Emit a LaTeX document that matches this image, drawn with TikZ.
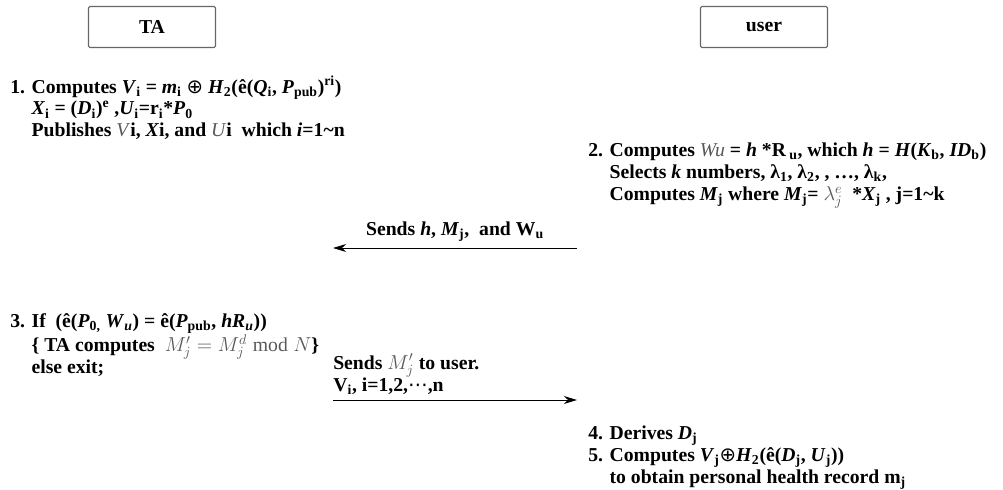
\documentclass[tikz,border=0pt]{standalone}
\usepackage{fontspec}
\setmainfont{Liberation Serif}
\newfontfamily\symfont{DejaVu Sans}
\usetikzlibrary{arrows.meta, positioning}

\definecolor{eqgray}{gray}{0.35}
\newcommand{\low}[1]{\textsubscript{#1}}
\newcommand{\high}[1]{\textsuperscript{#1}}
\newcommand{\lighteq}[1]{{\mdseries\color{eqgray}#1}}

\begin{document}
\begin{tikzpicture}[
            x=0.025cm, y=-0.025cm,
            party/.style={
                    rectangle,
                    draw=black!60,
                    line width=0.8pt,
                    rounded corners=1pt,
                    font=\fontsize{14}{15.5}\selectfont\bfseries,
                    minimum width=3.175cm,
                    minimum height=1.025cm
                },
            steptext/.style={
                    anchor=north west,
                    align=left,
                    inner sep=0pt,
                    font=\fontsize{14}{15.5}\selectfont\bfseries
                },
            msg/.style={
                    draw,
                    line width=0.7pt,
                    -{Stealth[length=0.33cm, width=0.2cm]}
                }
        ]
        \useasboundingbox (0,0) rectangle (1003,490);

        % Parties
        \node [party] (ta) at (152,27) {TA};
        \node [party] (user) at (764,27) {user};

        % Steps
        \node [steptext] (ta1) at (10,76) {1. Computes \textit{V}\low{i} = \textit{m}\low{i} {\mdseries\symfont ⊕} \textit{H}\low{2}(ê(\textit{Q}\low{i}, \textit{P}\low{pub})\high{ri})\\
            \phantom{1. }\textit{X}\low{i} = (\textit{D}\low{i})\high{e} ,\textit{U}\low{i}=r\low{i}*\textit{P}\low{0}\\
            \phantom{1. }Publishes \lighteq{\textit{V}}i, \textit{X}i, and \lighteq{\textit{U}}i\ \ which \textit{i}=1\textasciitilde n};
        \node [steptext] (usr1) at (588,143) {2. Computes \lighteq{\textit{Wu}} = \textit{h} *R\,\low{u}, which \textit{h} = \textit{H}(\textit{K}\low{b}, \textit{ID}\low{b})\\
            \phantom{2. }Selects \textit{k} numbers, λ\low{1}, λ\low{2}, , \dots, λ\low{k},\\
            \phantom{2. }Computes \textit{M}\low{j} where \textit{M}\low{j}= \lighteq{$\lambda^e_j$}\ \ *\textit{X}\low{j} , j=1\textasciitilde k};
        \node [steptext] (ta2) at (10,313) {3. If\ \ (ê(\textit{P}\low{0,} \textit{W}\low{\textit{u}}) = ê(\textit{P}\low{pub}, \textit{hR}\low{\textit{u}}))\\
            \phantom{3. }\{ TA computes\ \ \lighteq{$M'_j = M^d_j \bmod N$}\}\\
            \phantom{3. }else exit;};
        \node [steptext] (usr2) at (588,426) {4. Derives \textit{D}\low{j}\\
            5. Computes \textit{V}\low{j}{\mdseries\symfont ⊕}\textit{H}\low{2}(ê(\textit{D}\low{j}, \textit{U}\low{j}))\\
            \phantom{5. }to obtain personal health record m\low{j}};

        % Messages
        \coordinate (m1from) at (577,248);
        \coordinate (m1to) at (333,248);
        \coordinate (m2from) at (333,400);
        \coordinate (m2to) at (577,400);
        \draw [msg] (m1from) -- node [above=1pt, font=\fontsize{14}{15.5}\selectfont\bfseries] (m1) {Sends \textit{h}, \textit{M}\low{j},\ \ and W\low{u}} (m1to);
        \draw [msg] (m2from) -- (m2to);
        \node [steptext, anchor=south west] (m2) at ([yshift=0.14cm]m2from) {Sends \lighteq{$M'_j$} to user.\\
            V\low{i}, i=1,2,{\mdseries\symfont ⋯},n};
    \end{tikzpicture}
\end{document}
